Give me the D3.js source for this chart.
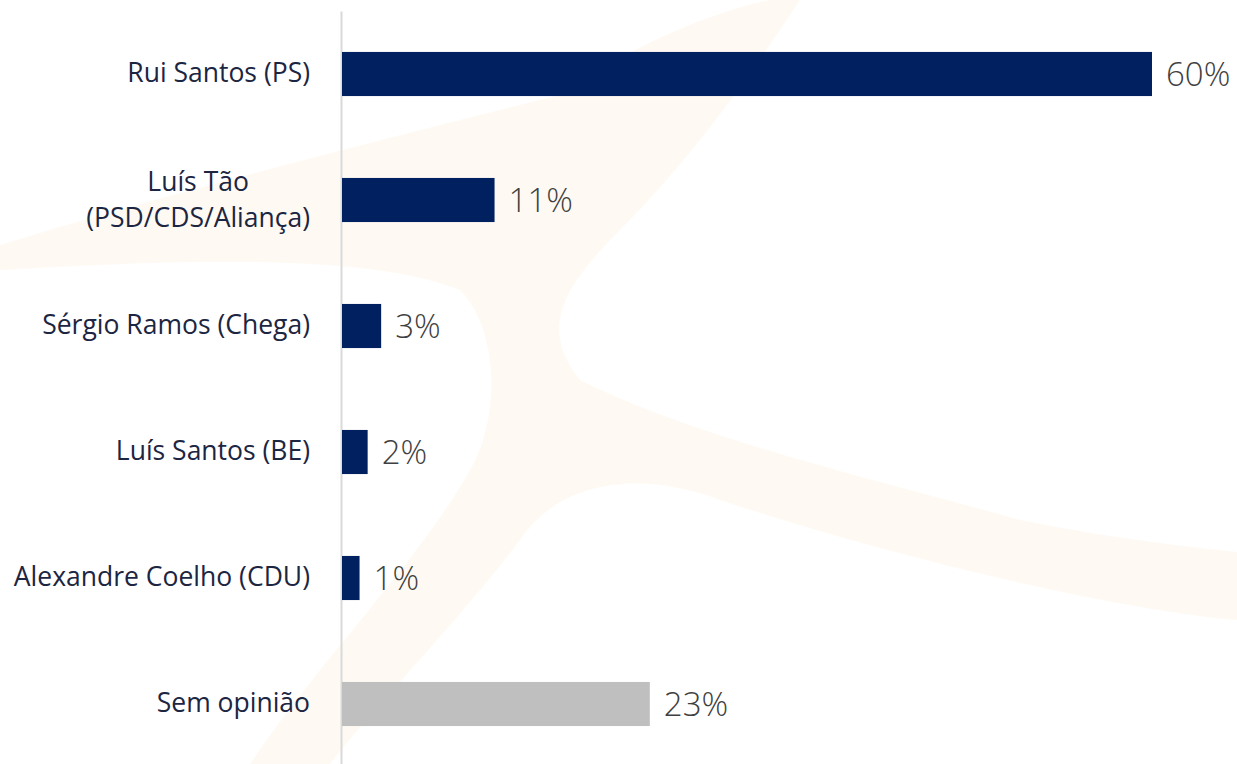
<!DOCTYPE html>
<html>
<head>
<meta charset="utf-8">
<script src="https://cdn.jsdelivr.net/npm/d3@7"></script>
<style>
  body { margin: 0; background: #fff; }
  svg { display: block; }
  .cat-axis .domain { stroke: #d9d9d9; stroke-width: 2; }
  .cat-axis text { font-family: "Open Sans", sans-serif; font-size: 26.5px; fill: #1c2541; }
  .val { font-family: "Open Sans", sans-serif; font-size: 33px; fill: #404040; font-weight: 300; }
</style>
</head>
<body>
<svg id="chart" width="1237" height="764"></svg>
<script>
// data
var categories = ["Rui Santos (PS)", "Luís Tão|(PSD/CDS/Aliança)", "Sérgio Ramos (Chega)", "Luís Santos (BE)", "Alexandre Coelho (CDU)", "Sem opinião"]
var values = [60, 11.3, 2.9, 1.9, 1.3, 22.8]
var valueLabels = ["60%", "11%", "3%", "2%", "1%", "23%"]
var barColors = ["#002060", "#002060", "#002060", "#002060", "#002060", "#bfbfbf"]

var svg = d3.select("#chart")
var data = categories.map((c, i) => ({cat: c, v: values[i], label: valueLabels[i], color: barColors[i]}))

// faint watermark in the background
var wm = svg.append("g").attr("fill", "#fcefd6").attr("opacity", 0.3)
wm.append("path")
   .attr("d", "M0,245 C180,190 420,130 560,95 C640,40 720,10 770,0 L800,0 C760,60 700,150 620,230 C560,290 540,330 580,380 C700,440 880,480 1020,520 C1120,540 1200,548 1237,552 L1237,620 C1120,610 900,560 720,500 C640,470 560,480 520,540 C460,620 380,700 330,764 L250,764 C320,660 420,560 470,470 C500,420 500,330 460,290 C360,250 150,262 0,270 Z")

var x = d3.scaleLinear().domain([0, 60]).range([342, 1152])
var y = d3.scaleBand().domain(categories).range([11, 767]).paddingInner(0.65).paddingOuter(0.325)

var pad = 31
var yAxis = d3.axisLeft(y).tickSize(0).tickPadding(pad)
var axisG = svg.append("g")
   .attr("class", "cat-axis")
   .attr("transform", "translate(341,0)")
   .call(yAxis)

// split two-line labels, lines centred on each other
axisG.selectAll(".tick text").each(function(d) {
   var parts = d.split("|")
   if (parts.length < 2) return
   var t = d3.select(this).text(null).attr("dy", null)
   var spans = parts.map((p, i) => t.append("tspan")
      .attr("dy", i == 0 ? (0.35 - (parts.length - 1) * 0.68) + "em" : "1.36em")
      .text(p))
   var w = d3.max(spans, s => s.node().getComputedTextLength())
   t.attr("text-anchor", "middle")
   spans.forEach(s => s.attr("x", -pad - w / 2))
})

svg.selectAll("rect.bar")
   .data(data)
   .join("rect")
   .attr("class", "bar")
   .attr("x", x(0))
   .attr("y", d => y(d.cat))
   .attr("width", d => x(d.v) - x(0))
   .attr("height", y.bandwidth())
   .attr("fill", d => d.color)

svg.selectAll("text.val")
   .data(data)
   .join("text")
   .attr("class", "val")
   .attr("x", d => x(d.v) + 14)
   .attr("y", d => y(d.cat) + y.bandwidth() / 2)
   .attr("dy", "0.36em")
   .text(d => d.label)
</script>
</body>
</html>
